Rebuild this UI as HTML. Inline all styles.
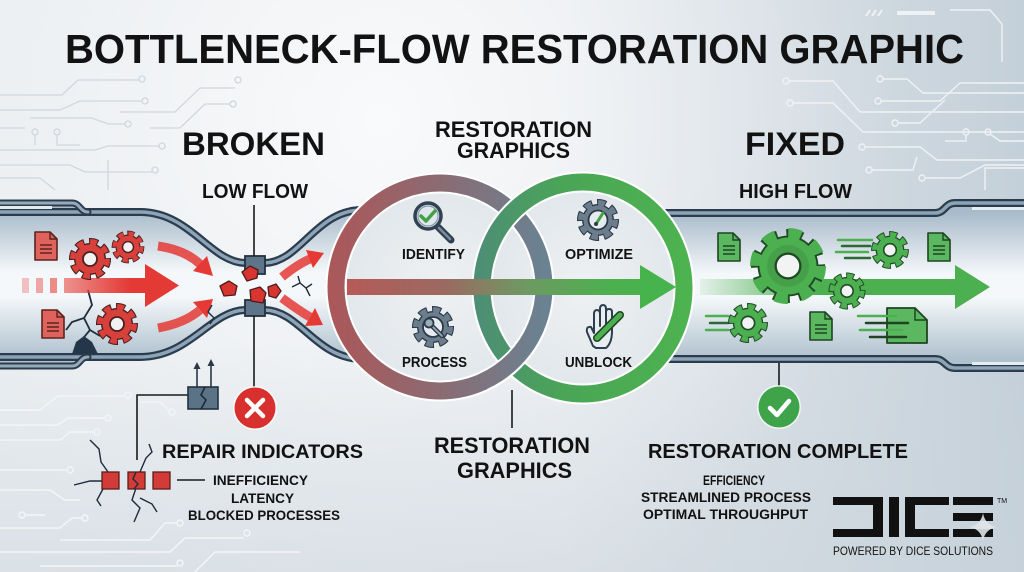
<!DOCTYPE html>
<html><head><meta charset="utf-8">
<style>
html,body{margin:0;padding:0;width:1024px;height:572px;overflow:hidden;background:#e6eaee}
svg{display:block}
text{font-family:"Liberation Sans",Arial,sans-serif;font-weight:bold;fill:#121212}
</style></head><body>
<svg width="1024" height="572" viewBox="0 0 1024 572" xmlns="http://www.w3.org/2000/svg">
<defs>
 <linearGradient id="bgH" x1="0" y1="0" x2="1" y2="0">
  <stop offset="0" stop-color="#e9edf0"/>
  <stop offset="0.55" stop-color="#e6eaee"/>
  <stop offset="1" stop-color="#c4d0d9"/>
 </linearGradient>
 <radialGradient id="glow" gradientUnits="userSpaceOnUse" cx="380" cy="120" r="520">
  <stop offset="0" stop-color="#ffffff" stop-opacity="0.75"/>
  <stop offset="0.6" stop-color="#ffffff" stop-opacity="0.25"/>
  <stop offset="1" stop-color="#ffffff" stop-opacity="0"/>
 </radialGradient>
 <linearGradient id="bgV" x1="0" y1="0" x2="0" y2="1">
  <stop offset="0.6" stop-color="#c9d3db" stop-opacity="0"/>
  <stop offset="1" stop-color="#c9d3db" stop-opacity="0.45"/>
 </linearGradient>
 <linearGradient id="pipeL" gradientUnits="userSpaceOnUse" x1="0" y1="212" x2="0" y2="357">
  <stop offset="0" stop-color="#aabccb"/>
  <stop offset="0.42" stop-color="#f5f8fa"/>
  <stop offset="0.58" stop-color="#f5f8fa"/>
  <stop offset="1" stop-color="#b0c2cf"/>
 </linearGradient>
 <linearGradient id="pipeR" gradientUnits="userSpaceOnUse" x1="0" y1="213" x2="0" y2="359">
  <stop offset="0" stop-color="#a9bbca"/>
  <stop offset="0.42" stop-color="#f5f8fa"/>
  <stop offset="0.58" stop-color="#f5f8fa"/>
  <stop offset="1" stop-color="#afc1ce"/>
 </linearGradient>
 <linearGradient id="ringL" gradientUnits="userSpaceOnUse" x1="336" y1="0" x2="544" y2="0">
  <stop offset="0" stop-color="#aa585a"/>
  <stop offset="0.5" stop-color="#8b6b72"/>
  <stop offset="1" stop-color="#6a8292"/>
 </linearGradient>
 <linearGradient id="ringR" gradientUnits="userSpaceOnUse" x1="482" y1="0" x2="684" y2="0">
  <stop offset="0" stop-color="#4d8f74"/>
  <stop offset="0.4" stop-color="#4aa556"/>
  <stop offset="1" stop-color="#4db250"/>
 </linearGradient>
 <linearGradient id="arrowC" gradientUnits="userSpaceOnUse" x1="347" y1="0" x2="676" y2="0">
  <stop offset="0" stop-color="#b65a58"/>
  <stop offset="0.3" stop-color="#9a6a62"/>
  <stop offset="0.55" stop-color="#6d9a62"/>
  <stop offset="0.8" stop-color="#4cb04e"/>
  <stop offset="1" stop-color="#46b44c"/>
 </linearGradient>
 <linearGradient id="redA" gradientUnits="userSpaceOnUse" x1="18" y1="0" x2="130" y2="0">
  <stop offset="0" stop-color="#e8433e" stop-opacity="0.25"/>
  <stop offset="1" stop-color="#e33a35"/>
 </linearGradient>
 <linearGradient id="greenA" gradientUnits="userSpaceOnUse" x1="700" y1="0" x2="820" y2="0">
  <stop offset="0" stop-color="#4caf50" stop-opacity="0.1"/>
  <stop offset="1" stop-color="#4caf50"/>
 </linearGradient>
 <radialGradient id="inner" cx="0.5" cy="0.5" r="0.5">
  <stop offset="0" stop-color="#eef1f3"/>
  <stop offset="1" stop-color="#e2e7eb"/>
 </radialGradient>
</defs>

<!-- background -->
<rect width="1024" height="572" fill="url(#bgH)"/>
<rect width="1024" height="572" fill="url(#glow)"/>
<rect width="1024" height="572" fill="url(#bgV)"/>

<!-- circuit lines top-left -->
<g fill="none" stroke="#d0d7dd" stroke-width="1.3">
 <path d="M0 95 H62 L78 80 H139"/><circle cx="142" cy="79" r="3"/>
 <path d="M0 110 H60 L80 101 H142"/><circle cx="145" cy="101" r="3"/>
 <path d="M30 118 H92 L108 124 H125"/><circle cx="128" cy="124" r="3"/>
 <path d="M0 128 H25 M35 135 V145 M57 135 V145 H80"/><circle cx="35" cy="132" r="3"/><circle cx="57" cy="132" r="3"/>
 <path d="M0 150 H95 L108 146 H159"/><circle cx="162" cy="146" r="3"/>
 <path d="M0 165 H70 L85 172 H152"/><circle cx="155" cy="170" r="3"/>
 <path d="M108 160 V190 M0 178 H40 L55 190"/>
 <path d="M120 112 H175 L200 88 H235"/><circle cx="238" cy="80" r="3"/>
 <path d="M150 128 H180 L205 104 H230"/><circle cx="233" cy="104" r="3"/>
</g>
<!-- circuit lines top-right -->
<g fill="none" stroke="#f1f4f6" stroke-width="1.4" opacity="0.95">
 <path d="M789 81 H833 L860 112 H1024"/><circle cx="786" cy="81" r="3"/>
 <path d="M793 103 H833 L863 132 H1024"/><circle cx="790" cy="103" r="3"/>
 <path d="M883 79 H907 L923 93 H1024"/><circle cx="880" cy="79" r="3"/>
 <path d="M881 101 H940 L960 83 H1024"/><circle cx="878" cy="101" r="3"/>
 <path d="M898 123 H920 L945 100"/><circle cx="895" cy="123" r="3"/>
 <path d="M865 147 H920 L937 160 H1024"/><circle cx="862" cy="147" r="3"/>
 <path d="M872 170 H913 L917 157"/><circle cx="869" cy="170" r="3"/>
 <path d="M925 178 H960 L985 165 H1024"/><circle cx="922" cy="178" r="3"/>
 <path d="M966 135 V141 H945"/><circle cx="966" cy="132" r="3"/>
 <path d="M990 134 L1000 141 H1024"/><circle cx="988" cy="132" r="3"/>
 <path d="M985 190 V168 H1024"/>
 <path d="M950 10 H990 L1002 24 V62"/>
 <path d="M866 16 L870 10 M872 16 L876 10 M878 16 L882 10" stroke-width="2"/>
 <path d="M897 13 H935" stroke-width="4"/>
</g>
<!-- circuit lines bottom-left -->
<g fill="none" stroke="#f3f6f8" stroke-width="1.4">
 <path d="M0 410 H40 L58 396 H125"/><circle cx="128" cy="395" r="3"/>
 <path d="M0 425 H58 L68 418 H105"/><circle cx="108" cy="418" r="3"/>
 <path d="M0 440 H60 L70 432 H94"/><circle cx="97" cy="432" r="3"/>
 <path d="M140 402 H160 L169 410"/><circle cx="172" cy="412" r="3"/>
 <path d="M0 470 H67"/><circle cx="70" cy="470" r="3"/>
 <path d="M0 490 H50 L65 500 H80"/>
 <path d="M25 515 H45"/><circle cx="22" cy="515" r="3"/>
 <path d="M0 528 H60 L72 518 H82"/><circle cx="85" cy="518" r="3"/>
 <path d="M60 540 H150 L165 523 H177"/><circle cx="180" cy="523" r="3"/>
 <path d="M0 552 H170 L185 538 H244"/><circle cx="247" cy="533" r="3"/>
 <path d="M40 566 H177"/><circle cx="180" cy="563" r="3"/>
 <path d="M195 572 L215 552 H300"/>
</g>

<!-- left pipe -->
<path d="M-5 203 H74 C80 203 80 212 88 212 H140 C190 212 210 262 245 263 H265 C300 262 315 212 360 210 V359 C315 357 300 311 265 310 H245 C210 311 190 357 140 357 H88 C80 357 80 366 74 366 H-5 Z" fill="url(#pipeL)"/>
<g fill="none" stroke-linecap="round">
 <path d="M-5 212 H140 C190 212 210 262 245 263 H265 C300 262 315 212 360 210" stroke="#2a3c4e" stroke-width="8"/>
 <path d="M-5 212 H140 C190 212 210 262 245 263 H265 C300 262 315 212 360 210" stroke="#8da4b6" stroke-width="3.5"/>
 <path d="M-5 357 H140 C190 357 210 311 245 310 H265 C300 311 315 357 360 359" stroke="#2a3c4e" stroke-width="8"/>
 <path d="M-5 357 H140 C190 357 210 311 245 310 H265 C300 311 315 357 360 359" stroke="#8da4b6" stroke-width="3.5"/>
 <path d="M-5 203 H72 C80 203 80 212 88 212" stroke="#2a3c4e" stroke-width="7"/>
 <path d="M-5 203 H72 C80 203 80 212 88 212" stroke="#95abbc" stroke-width="3"/>
 <path d="M-5 366 H72 C80 366 80 357 88 357" stroke="#2a3c4e" stroke-width="7"/>
 <path d="M-5 366 H72 C80 366 80 357 88 357" stroke="#95abbc" stroke-width="3"/>
</g>
<rect x="0" y="206" width="52" height="3" fill="#e3eaef"/>

<!-- right pipe -->
<path d="M660 213 H935 C945 213 945 203 955 203 H1030 V368 H955 C945 368 945 359 935 359 H660 Z" fill="url(#pipeR)"/>
<g fill="none">
 <path d="M660 213 H935 C945 213 945 203 955 203 H1030" stroke="#2a3c4e" stroke-width="8"/>
 <path d="M660 213 H935 C945 213 945 203 955 203 H1030" stroke="#8da4b6" stroke-width="3.5"/>
 <path d="M660 359 H935 C945 359 945 368 955 368 H1030" stroke="#2a3c4e" stroke-width="8"/>
 <path d="M660 359 H935 C945 359 945 368 955 368 H1030" stroke="#8da4b6" stroke-width="3.5"/>
</g>
<rect x="972" y="207" width="52" height="3" fill="#e6edf2"/>
<rect x="972" y="362" width="52" height="3" fill="#e6edf2"/>

<!-- LEFT PIPE CONTENT -->
<!-- crack -->
<path d="M88 290 L92 305 L84 318 L90 330 L80 342 L78 354 M84 318 L72 322 L66 330 M90 330 L100 336" fill="none" stroke="#1f2e3d" stroke-width="1.8"/>
<path d="M76 342 L84 336 L92 342 L98 354 L72 354 Z" fill="#24374a"/>
<!-- red arrow -->
<rect x="22" y="278" width="7" height="15" fill="#e8433e" opacity="0.3"/>
<rect x="36" y="278" width="7" height="15" fill="#e8433e" opacity="0.45"/>
<rect x="50" y="278" width="7" height="15" fill="#e8433e" opacity="0.6"/>
<rect x="64" y="278" width="82" height="15" fill="url(#redA)"/>
<polygon points="145,264 179,285.5 145,307" fill="#e33a35"/>
<!-- docs red -->
<g transform="translate(35,232)">
 <path d="M0 0 H15 L22 7 V28 H0 Z" fill="#e0625d" stroke="#5a2420" stroke-width="1.6" stroke-linejoin="round"/>
 <path d="M15 0 V7 H22" fill="none" stroke="#5a2420" stroke-width="1.4"/>
 <path d="M5 13 H17 M5 17 H17 M5 21 H17" stroke="#5a2420" stroke-width="1.5"/>
</g>
<g transform="translate(42,310)">
 <path d="M0 0 H15 L22 7 V28 H0 Z" fill="#e0625d" stroke="#5a2420" stroke-width="1.6" stroke-linejoin="round"/>
 <path d="M15 0 V7 H22" fill="none" stroke="#5a2420" stroke-width="1.4"/>
 <path d="M5 13 H17 M5 17 H17 M5 21 H17" stroke="#5a2420" stroke-width="1.5"/>
</g>
<!-- red gears -->
<g transform="translate(90,259)">
 <circle r="17.5" fill="none" stroke="#4a1f1f" stroke-width="7" stroke-dasharray="8.87 4.87" stroke-dashoffset="1"/>
 <circle r="16" fill="#4a1f1f"/><circle r="14.6" fill="#d8403b"/>
 <circle r="17.25" fill="none" stroke="#d8403b" stroke-width="5.5" stroke-dasharray="6.774 6.774"/>
 <circle r="7" fill="#f2f2f2" stroke="#4a1f1f" stroke-width="1.8"/>
</g>
<g transform="translate(128,247) scale(0.78)">
 <circle r="17.5" fill="none" stroke="#4a1f1f" stroke-width="7" stroke-dasharray="8.87 4.87" stroke-dashoffset="1"/>
 <circle r="16" fill="#4a1f1f"/><circle r="14.6" fill="#d8403b"/>
 <circle r="17.25" fill="none" stroke="#d8403b" stroke-width="5.5" stroke-dasharray="6.774 6.774"/>
 <circle r="7" fill="#f2f2f2" stroke="#4a1f1f" stroke-width="1.8"/>
</g>
<g transform="translate(117,324)">
 <circle r="17.5" fill="none" stroke="#4a1f1f" stroke-width="7" stroke-dasharray="8.87 4.87" stroke-dashoffset="1"/>
 <circle r="16" fill="#4a1f1f"/><circle r="14.6" fill="#d8403b"/>
 <circle r="17.25" fill="none" stroke="#d8403b" stroke-width="5.5" stroke-dasharray="6.774 6.774"/>
 <circle r="7" fill="#f2f2f2" stroke="#4a1f1f" stroke-width="1.8"/>
</g>
<!-- curved red arrows -->
<g fill="none" stroke="#e53935" stroke-width="9">
 <path d="M158 246 Q185 250 200 264" stroke-opacity="0.85"/>
 <path d="M158 328 Q185 323 200 310" stroke-opacity="0.85"/>
 <path d="M282 277 Q298 264 310 259" stroke-opacity="0.85"/>
 <path d="M282 298 Q298 310 310 317" stroke-opacity="0.85"/>
</g>
<g fill="#e53935">
 <polygon points="213,276 193,271 207,256"/>
 <polygon points="213,299 207,318 193,302"/>
 <polygon points="324,253 313,268 306,250"/>
 <polygon points="323,325 305,326 315,308"/>
</g>
<!-- small cracks near bottleneck -->
<path d="M292 287 L300 283 L306 288 L312 284 M300 283 L298 276 M306 288 L310 296" fill="none" stroke="#1f2e3d" stroke-width="1.4"/>
<path d="M212 305 L208 312 L214 318 L210 324" fill="none" stroke="#1f2e3d" stroke-width="1.4"/>
<!-- bottleneck blocks -->
<rect x="245" y="256" width="20" height="18" fill="#5e7488" stroke="#23313f" stroke-width="1.8"/>
<rect x="245" y="300" width="20" height="16" fill="#5e7488" stroke="#23313f" stroke-width="1.8"/>
<g fill="#d83530" stroke="#4a1c1c" stroke-width="1.3" stroke-linejoin="round">
 <polygon points="242,272 250,266 258,270 257,278 247,281"/>
 <polygon points="220,286 229,281 237,286 235,295 224,296"/>
 <polygon points="250,290 260,287 266,293 263,303 251,301"/>
 <polygon points="268,287 276,284 281,291 276,298 269,296"/>
</g>

<!-- circles -->
<circle cx="440" cy="287" r="100" fill="url(#inner)"/>
<ellipse cx="583" cy="288" rx="97" ry="102" fill="url(#inner)"/>
<circle cx="440" cy="287" r="104" fill="none" stroke="#ffffff" stroke-width="21"/>
<circle cx="440" cy="287" r="104" fill="none" stroke="url(#ringL)" stroke-width="17"/>
<ellipse cx="583" cy="288" rx="101" ry="106" fill="none" stroke="#ffffff" stroke-width="21"/>
<ellipse cx="583" cy="288" rx="101" ry="106" fill="none" stroke="url(#ringR)" stroke-width="17"/>
<path d="M534.3 331 A104 104 0 0 1 484 381.3" fill="none" stroke="#ffffff" stroke-width="21"/>
<path d="M536 327 A104 104 0 0 1 482 382" fill="none" stroke="url(#ringL)" stroke-width="17"/>

<!-- central arrow -->
<rect x="347" y="279" width="296" height="16" fill="url(#arrowC)"/>
<polygon points="640,265 676,287 640,309" fill="#47b34c"/>

<!-- circle icons -->
<!-- identify magnifier -->
<line x1="438" y1="227" x2="451" y2="240" stroke="#2f4152" stroke-width="7" stroke-linecap="round"/>
<line x1="439" y1="228" x2="450" y2="239" stroke="#7d8f9e" stroke-width="2.5" stroke-linecap="round"/>
<circle cx="428" cy="216" r="13" fill="#dfe7ec" stroke="#2f4152" stroke-width="3.5"/>
<circle cx="428" cy="216" r="10" fill="none" stroke="#8598a8" stroke-width="1.2"/>
<path d="M421 216 L426 221 L435 211" fill="none" stroke="#43a047" stroke-width="3.5" stroke-linecap="round" stroke-linejoin="round"/>
<!-- optimize gear -->
<g transform="translate(598,220)">
 <circle r="17.5" fill="none" stroke="#2b3a47" stroke-width="7" stroke-dasharray="8.87 4.87" stroke-dashoffset="1"/>
 <circle r="16" fill="#2b3a47"/><circle r="14.6" fill="#6c7e8e"/>
 <circle r="17.25" fill="none" stroke="#6c7e8e" stroke-width="5.5" stroke-dasharray="6.774 6.774"/>
 <circle r="9.5" fill="#e5ebef" stroke="#2b3a47" stroke-width="1.8"/>
 <line x1="-2" y1="4" x2="5" y2="-7" stroke="#43a047" stroke-width="3" stroke-linecap="round"/>
 <circle cx="-2" cy="4" r="2" fill="#2b3a47"/>
</g>
<!-- process gear -->
<g transform="translate(433,327)">
 <circle r="17.5" fill="none" stroke="#2b3a47" stroke-width="7" stroke-dasharray="8.87 4.87" stroke-dashoffset="1"/>
 <circle r="16" fill="#2b3a47"/><circle r="14.6" fill="#6c7e8e"/>
 <circle r="17.25" fill="none" stroke="#6c7e8e" stroke-width="5.5" stroke-dasharray="6.774 6.774"/>
 <circle r="10" fill="#e5ebef" stroke="#2b3a47" stroke-width="1.8"/>
 <line x1="-3" y1="-3" x2="9" y2="9" stroke="#2b3a47" stroke-width="4.5" stroke-linecap="round"/>
 <line x1="-3" y1="-3" x2="9" y2="9" stroke="#9aabb8" stroke-width="1.8" stroke-linecap="round"/>
 <circle cx="-4" cy="-4" r="4.5" fill="#9aabb8" stroke="#2b3a47" stroke-width="1.8"/>
</g>
<!-- unblock hand -->
<path d="M593 346 L587 332 Q586 326 591 327 L594 333 L594 314 Q594 310 597 310 Q600 310 600 314 L600 326 L600 309 Q600 305 603 305 Q606 305 606 309 L606 326 L606 312 Q606 309 609 309 Q612 309 612 312 L612 331 Q612 343 606 348 L596 348 Z" fill="#e8edf0" stroke="#2d3e4e" stroke-width="2" stroke-linejoin="round"/>
<line x1="597" y1="338" x2="620" y2="315" stroke="#1f4422" stroke-width="8" stroke-linecap="round"/>
<line x1="597" y1="338" x2="620" y2="315" stroke="#4caf50" stroke-width="5" stroke-linecap="round"/>

<!-- RIGHT PIPE CONTENT -->
<rect x="700" y="279" width="256" height="16" fill="url(#greenA)"/>
<polygon points="955,265 990,287 955,309" fill="#4caf50"/>
<g stroke-width="2.5" stroke-linecap="round">
 <path d="M838 240 H872 M836 252 H868" stroke="#4caf50"/>
 <path d="M842 246 H870 M845 258 H870" stroke="#2d6a33"/>
 <path d="M706 316 H728 M706 330 H728" stroke="#4caf50"/>
 <path d="M710 323 H728" stroke="#2d6a33"/>
</g>
<!-- green docs -->
<g transform="translate(718,233)">
 <path d="M0 0 H15 L22 7 V28 H0 Z" fill="#5cb860" stroke="#1f4422" stroke-width="1.6" stroke-linejoin="round"/>
 <path d="M15 0 V7 H22" fill="none" stroke="#1f4422" stroke-width="1.4"/>
 <path d="M5 13 H17 M5 17 H17 M5 21 H17" stroke="#1f4422" stroke-width="1.5"/>
</g>
<g transform="translate(928,233)">
 <path d="M0 0 H15 L22 7 V28 H0 Z" fill="#5cb860" stroke="#1f4422" stroke-width="1.6" stroke-linejoin="round"/>
 <path d="M15 0 V7 H22" fill="none" stroke="#1f4422" stroke-width="1.4"/>
 <path d="M5 13 H17 M5 17 H17 M5 21 H17" stroke="#1f4422" stroke-width="1.5"/>
</g>
<g transform="translate(810,312)">
 <path d="M0 0 H15 L22 7 V28 H0 Z" fill="#5cb860" stroke="#1f4422" stroke-width="1.6" stroke-linejoin="round"/>
 <path d="M15 0 V7 H22" fill="none" stroke="#1f4422" stroke-width="1.4"/>
 <path d="M5 13 H17 M5 17 H17 M5 21 H17" stroke="#1f4422" stroke-width="1.5"/>
</g>
<path d="M887 308 H915 L927 320 V343 H887 Z" fill="#5cb860" stroke="#1f4422" stroke-width="1.8" stroke-linejoin="round"/>
<path d="M915 308 V320 H927" fill="none" stroke="#1f4422" stroke-width="1.5"/>
<g stroke-width="2.5" stroke-linecap="round">
 <path d="M858 316 H896 M860 330 H902" stroke="#4caf50"/>
 <path d="M866 323 H908 M870 337 H906" stroke="#1f4422"/>
</g>
<!-- green gears -->
<g transform="translate(788,266) scale(1.9)">
 <circle r="17.5" fill="none" stroke="#1f4a25" stroke-width="4" stroke-dasharray="8.87 4.87" stroke-dashoffset="1"/>
 <circle r="16" fill="#1f4a25"/><circle r="15" fill="#4caf50"/>
 <circle r="17.25" fill="none" stroke="#4caf50" stroke-width="5.5" stroke-dasharray="6.774 6.774"/>
 <circle r="11" fill="#45a049"/>
 <circle r="6.5" fill="#f2f4f3" stroke="#1f4a25" stroke-width="1.2"/>
</g>
<g transform="translate(890,250) scale(0.9)">
 <circle r="17.5" fill="none" stroke="#1f4a25" stroke-width="7" stroke-dasharray="8.87 4.87" stroke-dashoffset="1"/>
 <circle r="16" fill="#1f4a25"/><circle r="14.6" fill="#4caf50"/>
 <circle r="17.25" fill="none" stroke="#4caf50" stroke-width="5.5" stroke-dasharray="6.774 6.774"/>
 <circle r="7" fill="#f2f4f3" stroke="#1f4a25" stroke-width="1.8"/>
</g>
<g transform="translate(847,291) scale(0.88)">
 <circle r="17.5" fill="none" stroke="#1f4a25" stroke-width="7" stroke-dasharray="8.87 4.87" stroke-dashoffset="1"/>
 <circle r="16" fill="#1f4a25"/><circle r="14.6" fill="#4caf50"/>
 <circle r="17.25" fill="none" stroke="#4caf50" stroke-width="5.5" stroke-dasharray="6.774 6.774"/>
 <circle r="7" fill="#f2f4f3" stroke="#1f4a25" stroke-width="1.8"/>
</g>
<g transform="translate(748,323) scale(0.95)">
 <circle r="17.5" fill="none" stroke="#1f4a25" stroke-width="7" stroke-dasharray="8.87 4.87" stroke-dashoffset="1"/>
 <circle r="16" fill="#1f4a25"/><circle r="14.6" fill="#4caf50"/>
 <circle r="17.25" fill="none" stroke="#4caf50" stroke-width="5.5" stroke-dasharray="6.774 6.774"/>
 <circle r="7" fill="#f2f4f3" stroke="#1f4a25" stroke-width="1.8"/>
</g>

<!-- connectors -->
<g stroke="#1a1a1a" stroke-width="1.6" fill="none">
 <line x1="254" y1="205" x2="254" y2="256"/>
 <line x1="254" y1="316" x2="254" y2="387"/>
 <line x1="512" y1="390" x2="512" y2="428"/>
 <line x1="779" y1="363" x2="779" y2="386"/>
 <path d="M188 395 H137 V460"/>
 <line x1="177" y1="480" x2="205" y2="480"/>
 <path d="M197 387 V368 M211 387 V365" stroke="#2a3846"/>
</g>
<polygon points="193.5,369 197,362 200.5,369" fill="#2a3846"/>
<polygon points="207.5,366 211,359 214.5,366" fill="#2a3846"/>
<!-- slate box -->
<rect x="188" y="387" width="30" height="22" fill="#5a7386" stroke="#23313f" stroke-width="1.6"/>
<path d="M205 387 L201 395 L206 400 L201 409" fill="none" stroke="#1b2632" stroke-width="1.5"/>
<!-- X circle -->
<circle cx="255" cy="408" r="22" fill="#ffffff" opacity="0.7"/>
<circle cx="255" cy="408" r="20.5" fill="#d8302f"/>
<path d="M247 400 L263 416 M263 400 L247 416" stroke="#ffffff" stroke-width="4.5" stroke-linecap="round"/>
<!-- check circle -->
<circle cx="779" cy="407" r="22" fill="#ffffff" opacity="0.7"/>
<circle cx="779" cy="407" r="20.5" fill="#3fa34a"/>
<path d="M770 408 L777 415 L789 401" fill="none" stroke="#ffffff" stroke-width="4.5" stroke-linecap="round" stroke-linejoin="round"/>
<!-- red squares with cracks -->
<g fill="none" stroke="#1e2b3a" stroke-width="1.4">
 <path d="M90 440 L99 449 L101 462 L108 472"/>
 <path d="M74 485 L90 481 L102 481"/>
 <path d="M103 489 L97 500 L101 506"/>
 <path d="M136 488 L132 500 L140 508 L134 522"/>
 <path d="M140 498 L152 504 L157 512"/>
 <path d="M140 472 L146 458 L152 452 L149 444"/>
 <path d="M133 478 L137 484 L134 489"/>
</g>
<g stroke="#5a1f1f" stroke-width="1.3">
 <rect x="102" y="472" width="17" height="17" fill="#d23b36"/>
 <rect x="128" y="472" width="17" height="17" fill="#d23b36"/>
 <rect x="153" y="472" width="17" height="17" fill="#d23b36"/>
</g>
<path d="M136 472 L133 479 L138 484 L134 489" fill="none" stroke="#1e2b3a" stroke-width="1.4"/>

<!-- DICE logo -->
<g fill="#111">
 <rect x="833" y="497" width="50" height="8"/>
 <rect x="873" y="497" width="10" height="40"/>
 <rect x="833" y="529" width="50" height="8"/>
 <rect x="889" y="497" width="10" height="40"/>
 <rect x="905" y="497" width="10" height="40"/>
 <rect x="905" y="497" width="44" height="8"/>
 <rect x="905" y="529" width="44" height="8"/>
 <rect x="953" y="497" width="40" height="8"/>
 <rect x="953" y="513" width="40" height="8"/>
 <rect x="953" y="529" width="40" height="8"/>
</g>
<path d="M983 513 Q985 525 997 527 Q985 529 983 541 Q981 529 969 527 Q981 525 983 513 Z" fill="#dfe4e8" opacity="0.9"/>
<text x="997" y="503" font-size="7" font-weight="normal" style="font-weight:normal">TM</text>

<!-- TEXT -->
<text x="65" y="63" font-size="41" textLength="899" lengthAdjust="spacingAndGlyphs">BOTTLENECK-FLOW RESTORATION GRAPHIC</text>
<text x="182" y="155" font-size="32" textLength="143" lengthAdjust="spacingAndGlyphs">BROKEN</text>
<text x="202" y="198" font-size="20" textLength="106" lengthAdjust="spacingAndGlyphs">LOW FLOW</text>
<text x="435" y="137" font-size="22" textLength="157" lengthAdjust="spacingAndGlyphs">RESTORATION</text>
<text x="457" y="158" font-size="22" textLength="113" lengthAdjust="spacingAndGlyphs">GRAPHICS</text>
<text x="745" y="155" font-size="32" textLength="100" lengthAdjust="spacingAndGlyphs">FIXED</text>
<text x="739" y="198" font-size="20" textLength="113" lengthAdjust="spacingAndGlyphs">HIGH FLOW</text>
<text x="402" y="259" font-size="15" textLength="63" lengthAdjust="spacingAndGlyphs" fill="#1c1c1c">IDENTIFY</text>
<text x="565" y="259" font-size="15" textLength="68" lengthAdjust="spacingAndGlyphs" fill="#1c1c1c">OPTIMIZE</text>
<text x="402" y="367" font-size="15" textLength="65" lengthAdjust="spacingAndGlyphs" fill="#1c1c1c">PROCESS</text>
<text x="565" y="367" font-size="15" textLength="67" lengthAdjust="spacingAndGlyphs" fill="#1c1c1c">UNBLOCK</text>
<text x="162" y="458" font-size="19" textLength="201" lengthAdjust="spacingAndGlyphs">REPAIR INDICATORS</text>
<text x="213" y="485" font-size="14" textLength="95" lengthAdjust="spacingAndGlyphs">INEFFICIENCY</text>
<text x="231" y="503" font-size="14" textLength="63" lengthAdjust="spacingAndGlyphs">LATENCY</text>
<text x="188" y="520" font-size="14" textLength="152" lengthAdjust="spacingAndGlyphs">BLOCKED PROCESSES</text>
<text x="434" y="453" font-size="22" textLength="156" lengthAdjust="spacingAndGlyphs">RESTORATION</text>
<text x="457" y="478" font-size="22" textLength="115" lengthAdjust="spacingAndGlyphs">GRAPHICS</text>
<text x="648" y="458" font-size="20" textLength="260" lengthAdjust="spacingAndGlyphs">RESTORATION COMPLETE</text>
<text x="703" y="485" font-size="13.5" textLength="62" lengthAdjust="spacingAndGlyphs">EFFICIENCY</text>
<text x="641" y="502" font-size="13.5" textLength="170" lengthAdjust="spacingAndGlyphs">STREAMLINED PROCESS</text>
<text x="643" y="519" font-size="13.5" textLength="165" lengthAdjust="spacingAndGlyphs">OPTIMAL THROUGHPUT</text>
<text x="833" y="555" font-size="12" textLength="160" lengthAdjust="spacingAndGlyphs" style="font-weight:normal">POWERED BY DICE SOLUTIONS</text>
</svg>
</body></html>
